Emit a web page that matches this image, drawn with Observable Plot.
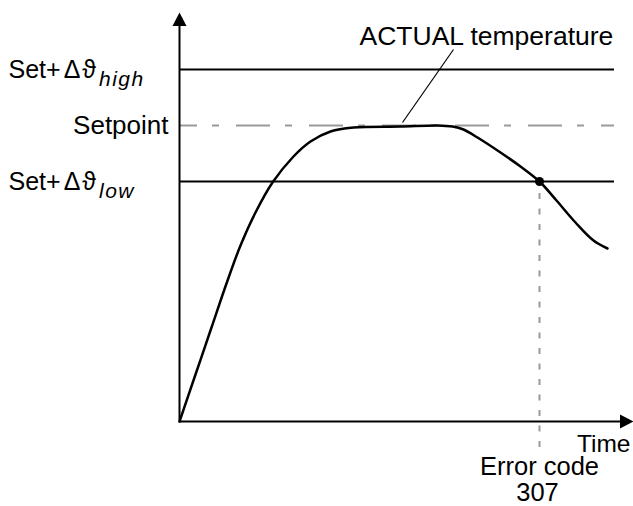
<!DOCTYPE html>
<html>
<head>
<meta charset="utf-8">
<script src="https://cdn.jsdelivr.net/npm/d3@7"></script>
<script src="https://cdn.jsdelivr.net/npm/@observablehq/plot@0.6"></script>
<style>
  html, body { margin: 0; padding: 0; background: #fff; }
</style>
</head>
<body>
<div id="chart"></div>
<script>
// ---- data ----
const timeVals = [0, 4, 8, 11.75, 15.25, 19, 23.25, 28.5, 32.75, 37.75, 43.5, 55.25, 64.5, 68.25, 71, 74.5, 80.25, 85.25, 90, 94.25, 99, 103.5, 107];
const tempVals = [0, 11.75, 23.5, 34.5, 44, 52.25, 59.75, 66.25, 70, 72.5, 73.5, 73.75, 74, 73.75, 73, 71, 67.25, 63.75, 60, 55.25, 49.75, 45.25, 43.25];

const levelNames = ["high", "setpoint", "low"];
const levelValues = [88, 74, 60];
const levelLabels = ["Set+Δϑ_high", "Setpoint", "Set+Δϑ_low"];
const levelLabelX = [-42.75, -2.75, -42.75];
const levelLabelAnchor = ["start", "end", "start"];

const timeMax = 108.75;      // end of the limit lines
const xAxisTip = 113.5;      // x arrow tip
const yAxisTip = 102.25;     // y arrow tip
const errorTime = 90;        // time of error (crosses low limit)
const errorTemp = 60;
const errorLineBottom = -6.5;

const curveLabel = "ACTUAL temperature";
const curveLabelPos = [45, 96.25];
const leaderFrom = [68.5, 93];
const leaderTo = [55.75, 74.75];

const bottomLabels = ["Time", "Error code", "307"];
const bottomLabelX = [112.75, 90, 89.5];
const bottomLabelY = [-5.75, -11.25, -17.75];
const bottomLabelAnchor = ["end", "middle", "middle"];

// ---- derived tables ----
const curve = timeVals.map((t, i) => ({t, v: tempVals[i]}));
const levels = levelNames.map((n, i) => ({name: n, v: levelValues[i], label: levelLabels[i], lx: levelLabelX[i], anchor: levelLabelAnchor[i]}));
const solidLevels = levels.filter(d => d.name !== "setpoint");
const setLevel = levels.filter(d => d.name === "setpoint");
const bottoms = bottomLabels.map((s, i) => ({s, x: bottomLabelX[i], y: bottomLabelY[i], a: bottomLabelAnchor[i]}));

// filled arrowhead: tip at origin, pointing up
const arrowHead = {
  draw(ctx) {
    ctx.moveTo(0, 0);
    ctx.lineTo(7, 13.5);
    ctx.lineTo(-7, 13.5);
    ctx.closePath();
  }
};

const FONT = "'Liberation Sans', Arial, Helvetica, sans-serif";

const anchoredText = (rows, anchor, opts) =>
  Plot.text(rows.filter(d => d.anchor === anchor || d.a === anchor), {...opts, textAnchor: anchor});

const plot = Plot.plot({
  width: 633,
  height: 506,
  marginLeft: 179,
  marginRight: 54,
  marginTop: 21,
  marginBottom: 85,
  x: {domain: [0, 100], axis: null},
  y: {domain: [0, 100], axis: null},
  style: {fontFamily: FONT, fontSize: "25px", background: "#fff", color: "#000"},
  marks: [
    // limit lines
    Plot.ruleY(solidLevels, {y: "v", x1: 0, x2: timeMax, stroke: "#000", strokeWidth: 2}),
    Plot.ruleY(setLevel, {y: "v", x1: 0, x2: timeMax, stroke: "#999", strokeWidth: 2, strokeDasharray: "34,15,7,17", strokeDashoffset: 16}),
    // error dotted vertical
    Plot.ruleX([errorTime], {y1: errorLineBottom, y2: errorTemp, stroke: "#999", strokeWidth: 2, strokeDasharray: "6,9.5"}),
    // axes
    Plot.ruleX([0], {y1: 0, y2: yAxisTip - 3, stroke: "#000", strokeWidth: 2}),
    Plot.ruleY([0], {x1: 0, x2: xAxisTip - 3, stroke: "#000", strokeWidth: 2}),
    Plot.dot([{x: 0, y: yAxisTip}], {x: "x", y: "y", symbol: arrowHead, fill: "#000", stroke: "none"}),
    Plot.dot([{x: xAxisTip, y: 0}], {x: "x", y: "y", symbol: arrowHead, fill: "#000", stroke: "none", rotate: 90}),
    // temperature curve
    Plot.line(curve, {x: "t", y: "v", curve: "catmull-rom", stroke: "#000", strokeWidth: 2.5}),
    Plot.dot([{x: errorTime, y: errorTemp}], {x: "x", y: "y", r: 4.5, fill: "#000", stroke: "none"}),
    // leader and curve label
    Plot.link([{x1: leaderFrom[0], y1: leaderFrom[1], x2: leaderTo[0], y2: leaderTo[1]}], {x1: "x1", y1: "y1", x2: "x2", y2: "y2", stroke: "#000", strokeWidth: 1.2}),
    Plot.text([curveLabel], {x: curveLabelPos[0], y: curveLabelPos[1], text: d => d, textAnchor: "start", fontSize: 26.5, fill: "#000"}),
    // level labels
    anchoredText(levels, "start", {x: "lx", y: "v", text: "label", fontSize: 25, fill: "#000"}),
    anchoredText(levels, "end", {x: "lx", y: "v", text: "label", fontSize: 26, fill: "#000"}),
    // bottom labels
    anchoredText(bottoms, "end", {x: "x", y: "y", text: "s", fontSize: 24.5, fill: "#000"}),
    anchoredText(bottoms, "middle", {x: "x", y: "y", text: "s", fontSize: 25.5, fill: "#000"})
  ]
});

// turn "_sub" into an italic subscript; widen the Greek letters a little
d3.select(plot).selectAll("text").each(function() {
  const el = d3.select(this);
  const txt = el.text();
  if (txt.includes("_")) {
    const [main, sub] = txt.split("_");
    const plain = main.replace("Δϑ", "");
    el.text(plain);
    el.append("tspan").attr("dx", 3).style("letter-spacing", "2px").text("Δϑ");
    el.append("tspan")
      .attr("dy", 8)
      .attr("dx", 1)
      .style("font-style", "italic")
      .style("font-size", "21px")
      .style("letter-spacing", "1.5px")
      .text(sub);
  }
});

document.getElementById("chart").appendChild(plot);
</script>
</body>
</html>
